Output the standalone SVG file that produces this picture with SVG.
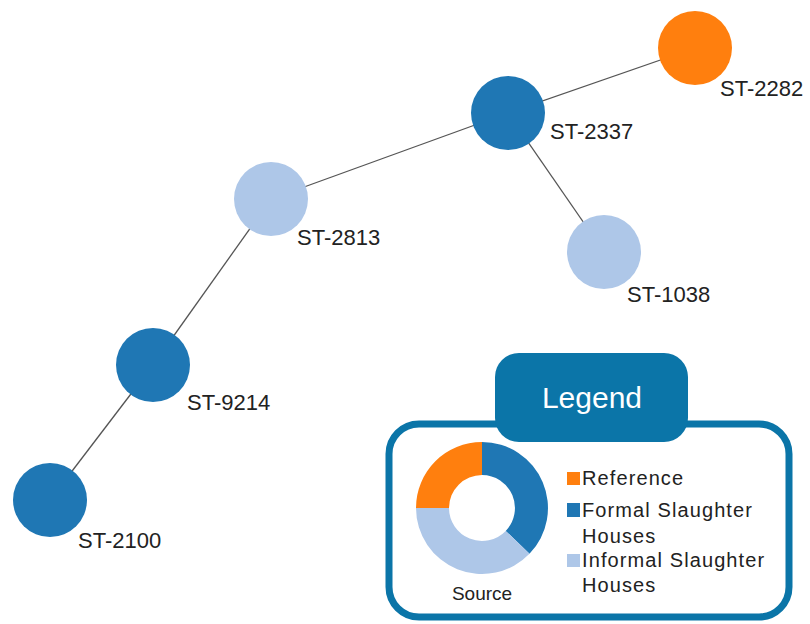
<svg xmlns="http://www.w3.org/2000/svg" width="810" height="624" viewBox="0 0 810 624">
<style>
.lbl{font-family:"Liberation Sans",Arial,sans-serif;font-size:22px;fill:#222}
.edge{stroke:#555;stroke-width:1.3;fill:none}
.dark{fill:#1f77b4}.light{fill:#aec7e8}.orange{fill:#ff7f0e}
.leg{font-family:"Liberation Sans",Arial,sans-serif;font-size:20px;fill:#222;letter-spacing:1.1px}
</style>
<rect width="810" height="624" fill="#fff"/>
<g id="connectors">
<line class="edge" x1="695" y1="48" x2="508" y2="113"/>
<line class="edge" x1="508" y1="113" x2="271" y2="199"/>
<line class="edge" x1="508" y1="113" x2="604" y2="252"/>
<line class="edge" x1="271" y1="199" x2="153" y2="365"/>
<line class="edge" x1="153" y1="365" x2="50" y2="500"/>
</g>
<g id="ST-2282"><circle class="orange" cx="695" cy="48" r="37"/><text class="lbl" x="720" y="96">ST-2282</text></g>
<g id="ST-2337"><circle class="dark" cx="508" cy="113" r="37"/><text class="lbl" x="550" y="139">ST-2337</text></g>
<g id="ST-2813"><circle class="light" cx="271" cy="199" r="37"/><text class="lbl" x="297" y="245">ST-2813</text></g>
<g id="ST-1038"><circle class="light" cx="604" cy="252" r="37"/><text class="lbl" x="627" y="302">ST-1038</text></g>
<g id="ST-9214"><circle class="dark" cx="153" cy="365" r="37"/><text class="lbl" x="187" y="410">ST-9214</text></g>
<g id="ST-2100"><circle class="dark" cx="50" cy="500" r="37"/><text class="lbl" x="78" y="548">ST-2100</text></g>
<g id="legend">
<rect x="389" y="424" width="400" height="193" rx="30" fill="#fff" stroke="#0b75a8" stroke-width="7"/>
<rect x="495" y="353" width="193" height="89" rx="24" fill="#0b75a8"/>
<text x="592" y="408" text-anchor="middle" font-family="'Liberation Sans',Arial,sans-serif" font-size="30" fill="#fff">Legend</text>
<path class="orange" d="M482 442 A66 66 0 0 0 416 508 L449 508 A33 33 0 0 1 482 475 Z"/>
<path class="dark" d="M482 442 A66 66 0 0 1 529.5 553.8 L505.7 530.9 A33 33 0 0 0 482 475 Z"/>
<path class="light" d="M529.5 553.8 A66 66 0 0 1 416 508 L449 508 A33 33 0 0 0 505.7 530.9 Z"/>
<text x="482" y="600" text-anchor="middle" font-family="'Liberation Sans',Arial,sans-serif" font-size="19" fill="#222">Source</text>
<rect class="orange" x="567" y="472" width="13" height="13"/>
<text class="leg" x="582" y="485">Reference</text>
<rect class="dark" x="567" y="503" width="13" height="14"/>
<text class="leg" x="582" y="517">Formal Slaughter</text>
<text class="leg" x="582" y="543">Houses</text>
<rect class="light" x="567" y="554" width="13" height="13"/>
<text class="leg" x="582" y="567">Informal Slaughter</text>
<text class="leg" x="582" y="592">Houses</text>
</g>
</svg>
